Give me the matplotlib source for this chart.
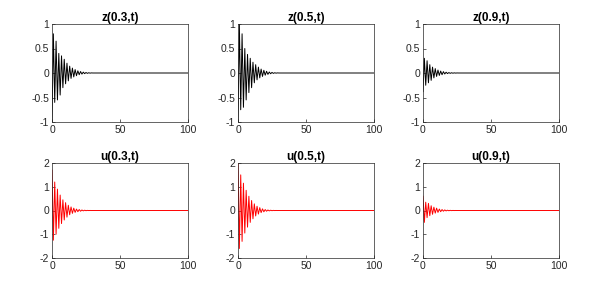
import numpy as np
import matplotlib.pyplot as plt

plt.rcParams['font.family'] = ['Liberation Sans', 'DejaVu Sans']

# peak values, one peak per time unit from t=0 to t=30
t_peaks = list(range(0, 31))
t_end = 100

z03 = [-1.0, 0.8, -0.6, 0.65, -0.55, 0.4, -0.45, 0.35, -0.3, 0.28, -0.22, 0.2, -0.16, 0.14,
       -0.11, 0.1, -0.08, 0.07, -0.055, 0.045, -0.035, 0.03, -0.022, 0.018, -0.013, 0.01,
       -0.007, 0.005, -0.003, 0.002, 0.0]
z05 = [-1.0, 1.0, -0.75, 0.8, -0.7, 0.5, -0.55, 0.38, -0.4, 0.3, -0.3, 0.22, -0.2, 0.17,
       -0.14, 0.12, -0.1, 0.08, -0.07, 0.055, -0.045, 0.035, -0.028, 0.02, -0.015, 0.012,
       -0.008, 0.005, -0.003, 0.002, 0.0]
z09 = [-0.38, 0.3, -0.25, 0.25, -0.2, 0.17, -0.15, 0.12, -0.1, 0.09, -0.07, 0.06, -0.05, 0.04,
       -0.035, 0.028, -0.02, 0.016, -0.012, 0.009, -0.007, 0.005, -0.004, 0.003, -0.002, 0.001,
       0.0, 0.0, 0.0, 0.0, 0.0]
u03 = [1.7, -1.25, 1.2, -1.0, 0.9, -0.75, 0.65, -0.55, 0.45, -0.4, 0.33, -0.28, 0.22, -0.18,
       0.15, -0.12, 0.1, -0.08, 0.06, -0.05, 0.04, -0.03, 0.022, -0.016, 0.012, -0.008, 0.005,
       -0.003, 0.002, -0.001, 0.0]
u05 = [2.0, -1.6, 1.5, -1.3, 1.15, -0.95, 0.85, -0.7, 0.6, -0.5, 0.42, -0.35, 0.28, -0.23,
       0.18, -0.15, 0.12, -0.09, 0.07, -0.055, 0.04, -0.03, 0.022, -0.016, 0.012, -0.008, 0.005,
       -0.003, 0.002, -0.001, 0.0]
u09 = [0.6, -0.5, 0.35, -0.3, 0.3, -0.22, 0.2, -0.16, 0.14, -0.11, 0.1, -0.08, 0.06, -0.05,
       0.04, -0.03, 0.025, -0.018, 0.013, -0.01, 0.007, -0.005, 0.003, -0.002, 0.001, 0.0, 0.0,
       0.0, 0.0, 0.0, 0.0]

titles = ['z(0.3,t)', 'z(0.5,t)', 'z(0.9,t)', 'u(0.3,t)', 'u(0.5,t)', 'u(0.9,t)']
series = [z03, z05, z09, u03, u05, u09]
colors = ['k', 'k', 'k', 'r', 'r', 'r']

lefts = [52, 238, 423]
width = 136
rows = [(24, 122), (163, 258)]

fig = plt.figure(figsize=(6.04, 2.88), dpi=100)
for i, (title, y, c) in enumerate(zip(titles, series, colors)):
    r, col = divmod(i, 3)
    top, bot = rows[r]
    ax = fig.add_axes([lefts[col] / 604, 1 - bot / 288, width / 604, (bot - top) / 288])
    t = t_peaks + [t_end]
    ax.plot(t, y + [0.0], color=c, lw=0.7)
    ax.set_xlim(0, 100)
    ax.set_xticks([0, 50, 100])
    if r == 0:
        ax.set_ylim(-1, 1)
        ax.set_yticks([-1, -0.5, 0, 0.5, 1])
        ax.set_yticklabels(['-1', '-0.5', '0', '0.5', '1'])
    else:
        ax.set_ylim(-2, 2)
        ax.set_yticks([-2, -1, 0, 1, 2])
        ax.set_yticklabels(['-2', '-1', '0', '1', '2'])
    ax.set_title(title, fontsize=8.5, fontweight='bold', pad=2)
    ax.tick_params(direction='in', length=2.5, width=0.5, labelsize=7.5,
                   colors='0.15', pad=2)
    for s in ax.spines.values():
        s.set_linewidth(0.5)
        s.set_color('0.15')

fig.savefig('out.png', dpi=100)
